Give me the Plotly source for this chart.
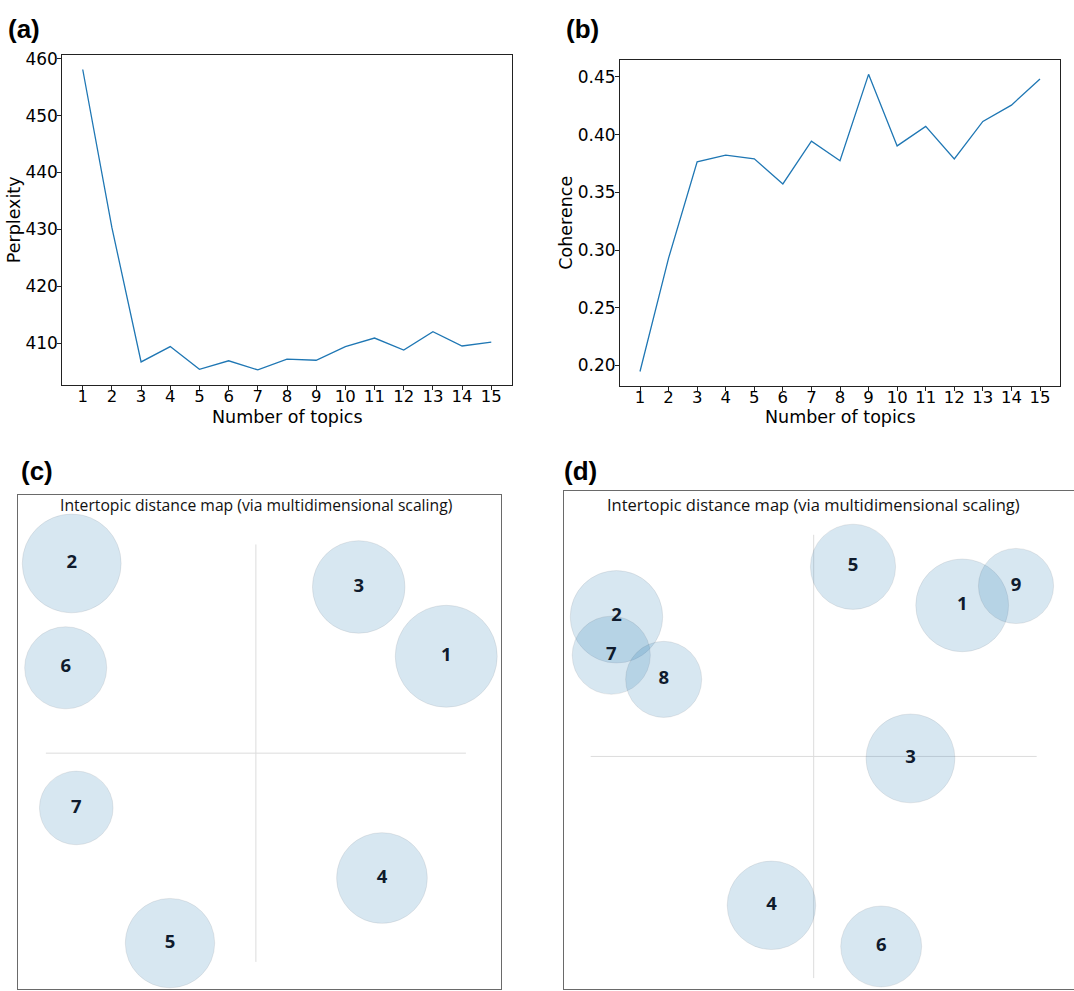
import plotly.graph_objects as go
import math

# ---------------- data ----------------
topics = list(range(1, 16))
perplexity = [458.1, 430.3, 406.7, 409.4, 405.4, 406.9, 405.3, 407.2, 407.0,
              409.4, 410.9, 408.8, 412.0, 409.5, 410.2]
coherence = [0.1948, 0.293, 0.3765, 0.3823, 0.3791, 0.3573, 0.3943, 0.3774,
             0.4523, 0.3903, 0.4072, 0.379, 0.4115, 0.4256, 0.4483]

# intertopic distance map (c): 7 topics
c_topic = ["1", "2", "3", "4", "5", "6", "7"]
c_pc1 = [0.2719, -0.2631, 0.1469, 0.1801, -0.1227, -0.2717, -0.2566]
c_pc2 = [0.1393, 0.2727, 0.2389, -0.1794, -0.2730, 0.1227, -0.0787]
c_share = [18.2, 17.1, 15.0, 14.4, 14.0, 11.8, 9.5]   # marginal topic distribution (%)

# intertopic distance map (d): 9 topics
d_topic = ["1", "2", "3", "4", "5", "6", "7", "8", "9"]
d_pc1 = [0.1998, -0.2653, 0.1302, -0.0568, 0.0529, 0.0908, -0.2723, -0.2018, 0.2722]
d_pc2 = [0.2045, 0.1890, -0.0027, -0.2015, 0.2567, -0.2572, 0.1370, 0.1043, 0.2307]
d_share = [13.4, 13.3, 12.3, 12.2, 11.3, 10.2, 9.5, 9.0, 8.8]

W, H = 1074, 991
def px(x):
    return x / W
def py(y):
    return 1 - y / H

LINE = "#1f77b4"
MPL_FONT = "DejaVu Sans"
LDA_FONT = "Open Sans"

fig = go.Figure()

fig.add_trace(go.Scatter(x=topics, y=perplexity, mode="lines",
                         line=dict(color=LINE, width=1.3), xaxis="x", yaxis="y"))
fig.add_trace(go.Scatter(x=topics, y=coherence, mode="lines",
                         line=dict(color=LINE, width=1.3), xaxis="x2", yaxis="y2"))

def bubbles(xs, ys, share, labels, scale, xa, ya):
    sizes = [scale * math.sqrt(s) for s in share]
    return go.Scatter(
        x=xs, y=ys, mode="markers+text", text=labels,
        textposition="middle center",
        textfont=dict(family=LDA_FONT, size=18.5, color="#0f1b2d", weight="bold"),
        marker=dict(size=sizes, color="rgba(31,119,180,0.25)",
                    line=dict(color="rgba(0,0,0,0.1)", width=1)),
        xaxis=xa, yaxis=ya, cliponaxis=False)

fig.add_trace(bubbles(c_pc1, c_pc2, c_share, c_topic, 23.9, "x3", "y3"))
fig.add_trace(bubbles(d_pc1, d_pc2, d_share, d_topic, 25.35, "x4", "y4"))

mpl_axis = dict(showline=True, linecolor="#222", linewidth=1, mirror=True,
                ticks="outside", ticklen=4, tickcolor="#222", showgrid=False,
                zeroline=False)
xfont = dict(family=MPL_FONT, size=16.5, color="black")
yfont = dict(family=MPL_FONT, size=17, color="black")

lda_axis = dict(showline=True, linecolor="#6a6a6a", linewidth=1, showgrid=False,
                zeroline=False, showticklabels=False, ticks="")

fig.update_layout(
    width=W, height=H, margin=dict(l=0, r=0, t=0, b=0),
    paper_bgcolor="white", plot_bgcolor="white", showlegend=False,
    xaxis=dict(mpl_axis, domain=[px(62.3), px(511.7)], range=[0.3, 15.7], tickfont=xfont,
               tickmode="array", tickvals=topics, anchor="y", ticklabelstandoff=-7),
    yaxis=dict(mpl_axis, domain=[py(381), py(49)], range=[402.7, 460.7], tickfont=yfont,
               tickvals=[410, 420, 430, 440, 450, 460], anchor="x", ticklabelstandoff=-4),
    xaxis2=dict(mpl_axis, domain=[px(620), px(1060)], range=[0.3, 15.7], tickfont=xfont,
                tickmode="array", tickvals=topics, anchor="y2", ticklabelstandoff=-7),
    yaxis2=dict(mpl_axis, domain=[py(382), py(54)], range=[0.1825, 0.465], tickfont=yfont,
                tickvals=[0.20, 0.25, 0.30, 0.35, 0.40, 0.45], tickformat=".2f",
                anchor="x2", ticklabelstandoff=-4),
    xaxis3=dict(lda_axis, mirror=True, domain=[px(18.3), px(500.7)],
                range=[-0.3394, 0.3497], anchor="y3"),
    yaxis3=dict(lda_axis, mirror=True, domain=[py(989.3), py(492.3)],
                range=[-0.3394, 0.3706], anchor="x3"),
    xaxis4=dict(lda_axis, mirror=True, domain=[px(564.3), 1.0],
                range=[-0.3355, 0.3502], anchor="y4"),
    yaxis4=dict(lda_axis, mirror=False, domain=[py(989.3), py(488.3)],
                range=[-0.3152, 0.3588], anchor="x4"),
)

# crosshair lines of the distance maps
shapes = []
for xr, yr in (("x3", "y3"), ("x4", "y4")):
    shapes.append(dict(type="line", xref=xr, yref=yr, x0=0, x1=0, y0=-0.3, y1=0.3,
                       line=dict(color="#dcdcdc", width=1), layer="below"))
    shapes.append(dict(type="line", xref=xr, yref=yr, x0=-0.3, x1=0.3, y0=0, y1=0,
                       line=dict(color="#dcdcdc", width=1), layer="below"))
fig.update_layout(shapes=shapes)

ann = []
def add_text(text, x, y, size, family, color="black", bold=False, angle=0,
             xanchor="center", yanchor="middle", xref="paper"):
    ann.append(dict(text=text, x=x, y=y, xref=xref, yref="paper", showarrow=False,
                    xanchor=xanchor, yanchor=yanchor, textangle=angle,
                    font=dict(family=family, size=size, color=color,
                              weight="bold" if bold else "normal")))

add_text("Perplexity", px(13.5), py(215), 17.5, MPL_FONT, angle=-90)
add_text("Coherence", px(566), py(218), 17.5, MPL_FONT, angle=-90)
add_text("Number of topics", px(287), py(414), 17.5, MPL_FONT)
add_text("Number of topics", px(840), py(414), 17.5, MPL_FONT)

add_text("(a)", px(6), py(23.5), 26, "Liberation Sans", bold=True, xanchor="left")
add_text("(b)", px(564), py(23.5), 26, "Liberation Sans", bold=True, xanchor="left")
add_text("(c)", px(19), py(467.5), 26, "Liberation Sans", bold=True, xanchor="left")
add_text("(d)", px(562), py(467.5), 26, "Liberation Sans", bold=True, xanchor="left")

add_text("Intertopic distance map (via multidimensional scaling)", 0, py(502.3), 15.7,
         LDA_FONT, color="#111", xref="x3")
add_text("Intertopic distance map (via multidimensional scaling)", 0, py(501.7), 16.5,
         LDA_FONT, color="#111", xref="x4")

fig.update_layout(annotations=ann)

fig.write_html("out.html")
